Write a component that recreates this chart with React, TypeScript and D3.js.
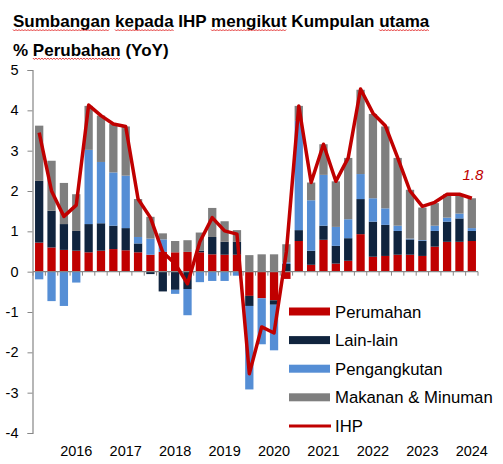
import React, { useEffect, useRef } from "react";
import * as d3 from "d3";

// quarterly contributions to CPI (IHP), % points
const quarters = [
  "2016Q1", "2016Q2", "2016Q3", "2016Q4",
  "2017Q1", "2017Q2", "2017Q3", "2017Q4",
  "2018Q1", "2018Q2", "2018Q3", "2018Q4",
  "2019Q1", "2019Q2", "2019Q3", "2019Q4",
  "2020Q1", "2020Q2", "2020Q3", "2020Q4",
  "2021Q1", "2021Q2", "2021Q3", "2021Q4",
  "2022Q1", "2022Q2", "2022Q3", "2022Q4",
  "2023Q1", "2023Q2", "2023Q3", "2023Q4",
  "2024Q1", "2024Q2", "2024Q3", "2024Q4",
];

const perumahan = [
  0.72, 0.60, 0.54, 0.52, 0.48, 0.52, 0.56, 0.53,
  0.48, 0.42, 0.49, 0.48, 0.49, 0.48, 0.43, 0.42,
  0.42, -0.60, -0.66, -0.71, -0.18, 0.76, 0.17, 0.79,
  0.20, 0.27, 0.93, 0.37, 0.39, 0.42, 0.42, 0.39,
  0.62, 0.74, 0.74, 0.76,
];
const lainLain = [
  1.53, 0.91, 0.64, 0.49, 0.70, 0.68, 0.58, 0.55,
  0.22, -0.06, -0.49, -0.45, -0.43, 0.04, 0.43, 0.32,
  0.32, -0.25, 0.03, -0.11, 0.19, 0.27, 0.35, 0.35,
  0.44, 0.56, 0.87, 0.87, 0.77, 0.59, 0.38, 0.37,
  0.39, 0.50, 0.58, 0.25,
];
const pengangkutan = [
  -0.19, -0.73, -0.85, -0.27, 1.84, 1.52, 1.32, 1.30,
  0.16, 0.40, 0.31, -0.10, -0.65, -0.26, -0.23, -0.23,
  -0.10, -2.07, -1.14, -1.13, 0.04, 2.71, 1.25, 1.26,
  0.47, 0.47, 0.62, 0.58, 0.41, 0.13, 0.02, 0.02,
  0.13, 0.10, 0.12, 0.07,
];
const makanan = [
  1.37, 1.24, 1.02, 0.91, 1.09, 1.15, 1.20, 1.22,
  0.94, 0.54, 0.15, 0.28, 0.29, 0.45, 0.72, 0.51,
  0.29, 0.41, 0.40, 0.43, 0.45, 0.37, 0.44, 0.76,
  1.13, 1.52, 2.09, 2.09, 2.03, 1.68, 1.21, 0.81,
  0.56, 0.58, 0.48, 0.74,
];
const ihp = [
  3.45, 2.0, 1.37, 1.65, 4.13, 3.87, 3.66, 3.6,
  1.8, 1.34, 0.48, 0.2, -0.3, 0.74, 1.34, 1.01,
  0.93, -2.53, -1.37, -1.52, 0.5, 4.11, 2.21, 3.16,
  2.24, 2.82, 4.53, 3.93, 3.62, 2.83, 2.0, 1.62,
  1.72, 1.92, 1.92, 1.82,
];

const yTicks = [-4, -3, -2, -1, 0, 1, 2, 3, 4, 5];

const seriesNames = ["Perumahan", "Lain-lain", "Pengangkutan", "Makanan & Minuman"];
const seriesValues = [perumahan, lainLain, pengangkutan, makanan];
const seriesColors = ["#C00000", "#10243E", "#558ED5", "#7F7F7F"];
const lineName = "IHP";
const lineColor = "#C00000";
const lastLabel = "1.8";

const titleText = "Sumbangan kepada IHP mengikut Kumpulan utama";
const subtitleText = "% Perubahan (YoY)";
const titleFlagged = ["Sumbangan", "kepada", "mengikut", "utama"];
const subtitleFlagged = ["Perubahan"];

const W = 503;
const H = 464;
const FONT = "'Liberation Sans', Arial, sans-serif";

const App: React.FC = () => {
  const svgRef = useRef<SVGSVGElement>(null);

  useEffect(() => {
    if (!svgRef.current) return;
    const svg = d3.select(svgRef.current);
    svg.selectAll("*").remove();

    const x = d3.scaleBand<string>()
      .domain(quarters)
      .range([33, 478])
      .paddingInner(0.33)
      .paddingOuter(0.165);

    const y = d3.scaleLinear().domain([-4, 5]).range([433, 70]);

    // stacked table for d3.stack
    const table = quarters.map((q, i) => {
      const row: Record<string, number | string> = { q };
      seriesNames.forEach((name, s) => (row[name] = seriesValues[s][i]));
      return row;
    });

    const stacked = d3.stack<Record<string, number | string>>()
      .keys(seriesNames)
      .value((d, key) => d[key] as number)
      .offset(d3.stackOffsetDiverging)(table);

    // bars
    stacked.forEach((layer, s) => {
      svg.append("g")
        .selectAll("rect")
        .data(layer)
        .join("rect")
        .attr("x", d => x(d.data.q as string)!)
        .attr("width", x.bandwidth())
        .attr("y", d => y(Math.max(d[0], d[1])))
        .attr("height", d => Math.abs(y(d[0]) - y(d[1])))
        .attr("fill", seriesColors[s]);
    });

    // y axis
    const yAxis = svg.append("g")
      .attr("transform", "translate(32.5,0)")
      .call(d3.axisLeft(y).tickValues(yTicks).tickSize(5).tickPadding(9).tickFormat(d => String(d)));
    yAxis.select(".domain").attr("stroke", "#868686").attr("stroke-width", 1.2);
    yAxis.selectAll(".tick line").attr("stroke", "#868686");
    yAxis.selectAll(".tick text")
      .attr("fill", "#000")
      .style("font-family", FONT)
      .style("font-size", "14.5px");

    // x axis at zero, ticks between categories
    const zeroY = y(0);
    svg.append("line")
      .attr("x1", 33).attr("x2", 478)
      .attr("y1", zeroY).attr("y2", zeroY)
      .attr("stroke", "#868686")
      .attr("stroke-width", 1.2);
    const step = x.step();
    svg.append("g")
      .selectAll("line")
      .data(quarters.concat(["end"]))
      .join("line")
      .attr("x1", (_d, i) => 33 + i * step)
      .attr("x2", (_d, i) => 33 + i * step)
      .attr("y1", zeroY)
      .attr("y2", zeroY + 4)
      .attr("stroke", "#868686");

    // year labels under the fourth quarter of each year
    svg.append("g")
      .selectAll("text")
      .data(quarters.filter(q => q.endsWith("Q4")))
      .join("text")
      .attr("x", d => x(d)! + x.bandwidth() / 2)
      .attr("y", 456)
      .attr("text-anchor", "middle")
      .style("font-family", FONT)
      .style("font-size", "14.5px")
      .text(d => d.slice(0, 4));

    // IHP line
    const line = d3.line<number>()
      .x((_d, i) => x(quarters[i])! + x.bandwidth() / 2)
      .y(d => y(d));
    svg.append("path")
      .datum(ihp)
      .attr("fill", "none")
      .attr("stroke", lineColor)
      .attr("stroke-width", 3.5)
      .attr("stroke-linejoin", "round")
      .attr("d", line);

    const lastI = ihp.length - 1;
    svg.append("text")
      .attr("x", x(quarters[lastI])! + x.bandwidth() / 2 + 1)
      .attr("y", y(ihp[lastI]) - 18)
      .attr("text-anchor", "middle")
      .attr("fill", lineColor)
      .style("font-family", FONT)
      .style("font-style", "italic")
      .style("font-size", "15px")
      .text(lastLabel);

    // legend
    const legend = svg.append("g").attr("transform", "translate(289,0)");
    const rowY = (i: number) => 311.5 + i * 28.6;
    seriesNames.forEach((name, i) => {
      legend.append("rect")
        .attr("x", 0).attr("y", rowY(i) - 4)
        .attr("width", 41).attr("height", 8)
        .attr("fill", seriesColors[i]);
      legend.append("text")
        .attr("x", 46).attr("y", rowY(i) + 6)
        .style("font-family", FONT)
        .style("font-size", "16.7px")
        .text(name);
    });
    legend.append("line")
      .attr("x1", 0).attr("x2", 42)
      .attr("y1", rowY(4)).attr("y2", rowY(4))
      .attr("stroke", lineColor)
      .attr("stroke-width", 3);
    legend.append("text")
      .attr("x", 46).attr("y", rowY(4) + 6)
      .style("font-family", FONT)
      .style("font-size", "16.7px")
      .text(lineName);

    // titles with spell-check squiggles
    const squiggle = (x0: number, x1: number, yy: number) => {
      const pts: [number, number][] = [];
      for (let px = x0, k = 0; px <= x1; px += 1.5, k++) pts.push([px, yy + (k % 2 ? 1.5 : 0)]);
      return d3.line()(pts);
    };
    const addTitle = (txt: string, baseline: number, flagged: string[]) => {
      const t = svg.append("text")
        .attr("x", 13).attr("y", baseline)
        .style("font-family", FONT)
        .style("font-weight", "bold")
        .style("font-size", "17px")
        .text(txt);
      const node = t.node() as SVGTextElement;
      flagged.forEach(word => {
        const start = txt.indexOf(word);
        if (start < 0) return;
        let x0 = 13, len = word.length * 9;
        try {
          x0 = 13 + (start > 0 ? node.getSubStringLength(0, start) : 0);
          len = node.getSubStringLength(start, word.length);
        } catch (e) { /* keep rough guess */ }
        svg.append("path")
          .attr("d", squiggle(x0, x0 + len, baseline + 2.5))
          .attr("fill", "none")
          .attr("stroke", "#E02020")
          .attr("stroke-width", 0.9);
      });
    };
    addTitle(titleText, 27, titleFlagged);
    addTitle(subtitleText, 55.5, subtitleFlagged);
  }, []);

  return (
    <div style={{ position: "absolute", left: 0, top: 0, width: W, height: H, background: "#fff" }}>
      <svg ref={svgRef} width={W} height={H} style={{ display: "block" }} />
    </div>
  );
};

export default App;
